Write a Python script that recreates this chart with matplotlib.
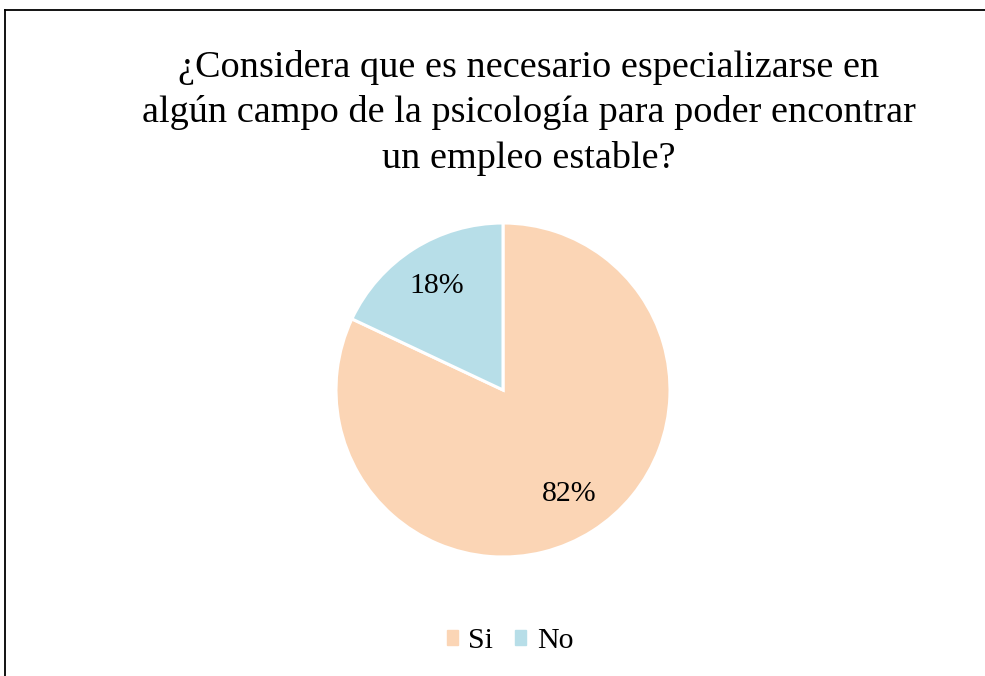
import matplotlib.pyplot as plt
from matplotlib.lines import Line2D
import numpy as np

labels = ["Si", "No"]
values = [82, 18]
colors = ["#FBD5B5", "#B7DEE8"]
title = ("¿Considera que es necesario especializarse en\n"
         "algún campo de la psicología para poder encontrar\n"
         "un empleo estable?")

plt.rcParams['font.family'] = ['Liberation Serif', 'DejaVu Serif']

fig = plt.figure(figsize=(9.85, 6.76), dpi=100)

# pie axes: centre (503, 390) px, radius ~167 px
W, H = 985, 676
cx, cy, r = 503, 390, 167
ax = fig.add_axes([(cx - r) / W, 1 - (cy + r) / H, 2 * r / W, 2 * r / H])
wedges, texts = ax.pie(values, colors=colors, startangle=90, counterclock=False,
                       wedgeprops=dict(edgecolor="white", linewidth=2.2),
                       radius=1)
ax.set_xlim(-1, 1)
ax.set_ylim(-1, 1)
ax.set_aspect('equal')
ax.axis('off')

# percentage labels
start = 90.0
total = sum(values)
for v in values:
    span = 360.0 * v / total
    mid = np.deg2rad(start - span / 2)
    ax.text(0.74 * np.cos(mid), 0.74 * np.sin(mid), "{:.0f}%".format(100 * v / total),
            ha='center', va='center', fontsize=21.5)
    start -= span

fig.text(529 / W, 1 - 113 / H, title, ha='center', va='center', fontsize=27.5,
         linespacing=1.4)

handles = [plt.Rectangle((0, 0), 1, 1, color=c) for c in colors]
fig.legend(handles, labels, loc='center', bbox_to_anchor=(510 / W, 1 - 641 / H),
           ncol=2, frameon=False, fontsize=21.5, handlelength=0.37, handleheight=0.37,
           handletextpad=0.35, columnspacing=0.75)

# chart border (extends beyond right and bottom of image)
fig.add_artist(Line2D([5 / W, 1.01], [1 - 9.5 / H, 1 - 9.5 / H], color='black',
                      linewidth=1.3, transform=fig.transFigure))
fig.add_artist(Line2D([5 / W, 5 / W], [-0.01, 1 - 9.5 / H], color='black',
                      linewidth=1.3, transform=fig.transFigure))

fig.savefig('out.png', dpi=100)
